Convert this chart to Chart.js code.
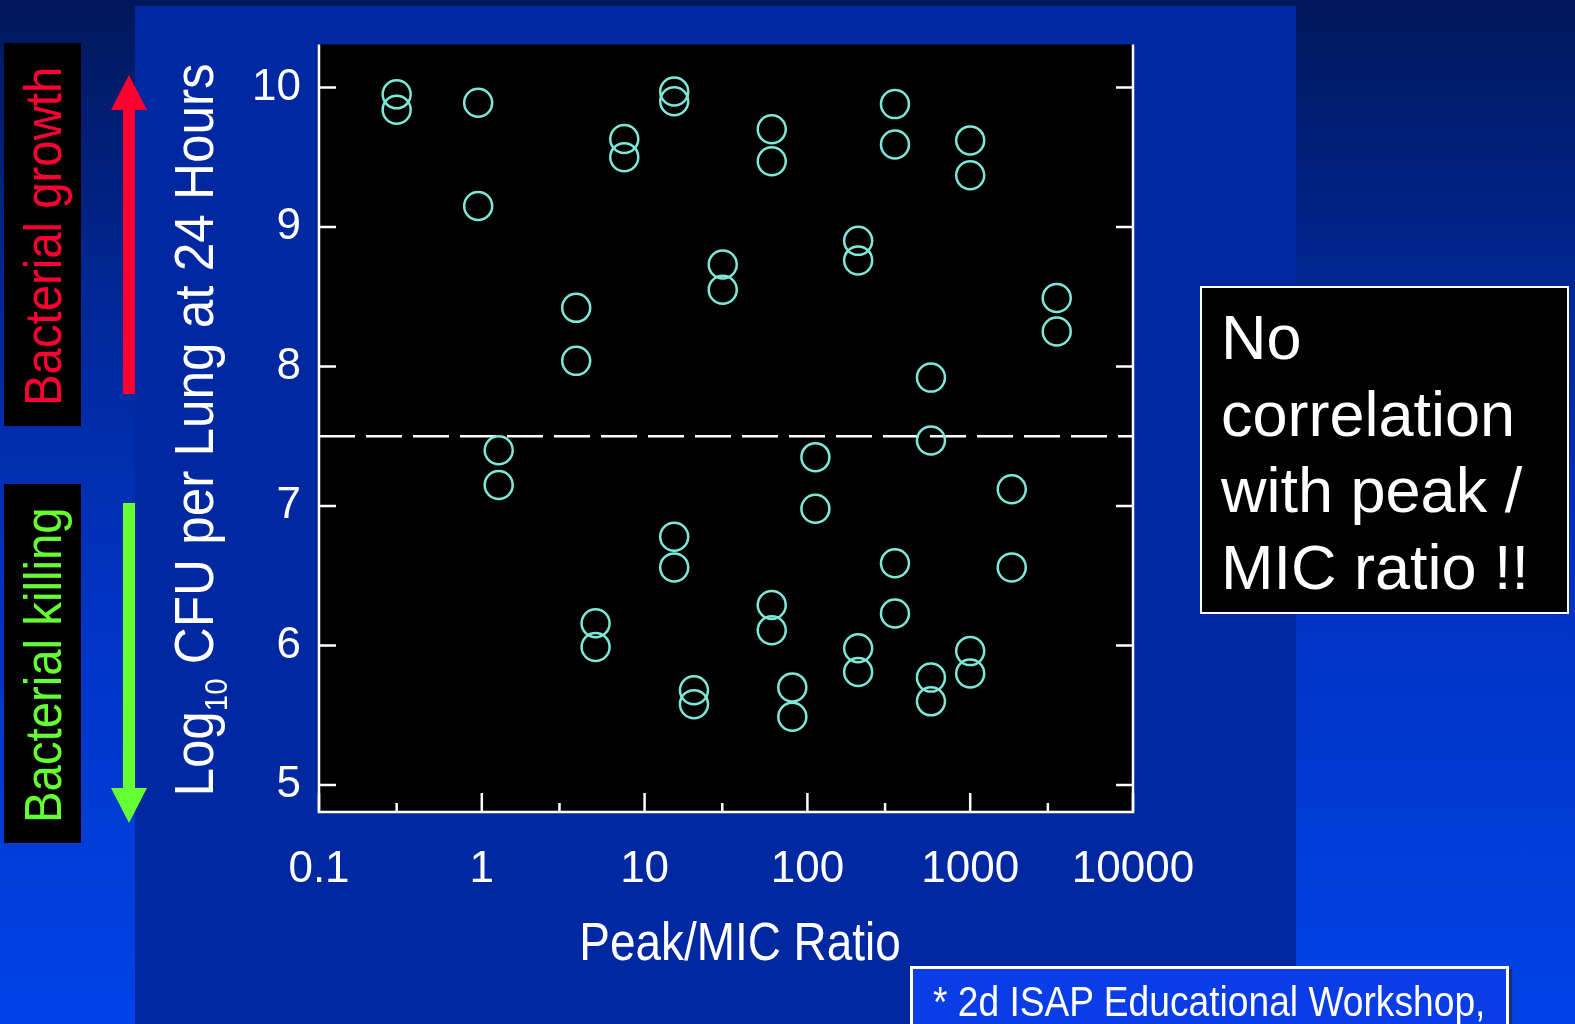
<!DOCTYPE html>
<html>
<head>
<meta charset="utf-8">
<title>Peak/MIC ratio vs lung CFU</title>
<script src="https://cdn.jsdelivr.net/npm/chart.js@4.4.1/dist/chart.umd.min.js"></script>
<style>
  html, body { margin: 0; padding: 0; }
  body {
    width: 1575px; height: 1024px; overflow: hidden; position: relative;
    background: linear-gradient(to bottom, #00175a 0%, #002898 30%, #0034c4 60%, #0043e8 100%);
    font-family: 'Liberation Sans', Arial, sans-serif;
  }
  .panel { position: absolute; left: 135px; top: 6px; width: 1161px; height: 1018px; background: #0028a0; }
  #chart { position: absolute; left: 0; top: 0; z-index: 1; }
  .side-box { position: absolute; left: 4px; width: 77px; background: #000; z-index: 2; }
  .side-text {
    position: absolute; z-index: 3; white-space: nowrap;
    font-size: 52px; line-height: 1.15;
    transform-origin: 0 0; transform: rotate(-90deg) scaleX(0.91);
  }
  .note {
    position: absolute; left: 1200px; top: 286px; width: 369px; height: 328px;
    box-sizing: border-box; border: 2px solid #fff; background: #000; color: #fff;
    padding: 11px 0 0 19px; font-size: 63px; line-height: 76.5px; z-index: 2;
  }
  .ref {
    position: absolute; left: 910px; top: 966px; width: 599px; height: 80px;
    box-sizing: border-box; border: 3px solid #fff; background: #0a3de6;
    box-shadow: 3px 3px 0 #1c2c6e; z-index: 2;
  }
  .ref span {
    position: absolute; left: 20px; top: 9px; white-space: nowrap; color: #fff;
    font-size: 42px; line-height: 1.15; transform-origin: 0 0; transform: scaleX(0.885);
  }
</style>
</head>
<body>
<div class="panel"></div>
<canvas id="chart" width="1575" height="1024"></canvas>

<div class="side-box" style="top:43px;height:383px"></div>
<div class="side-text" style="left:14px;top:406px;color:#ff0033">Bacterial growth</div>
<div class="side-box" style="top:484px;height:359px"></div>
<div class="side-text" style="left:14px;top:823px;color:#66ff33">Bacterial killing</div>

<div class="note">No<br>correlation<br>with peak /<br>MIC ratio !!</div>
<div class="ref"><span>* 2d ISAP Educational Workshop,</span></div>

<script>
// data
const peakMicRatio = [0.3, 0.3, 0.95, 0.95, 1.27, 1.27, 3.8, 3.8, 5.0, 5.0, 7.5, 7.5,
  15.2, 15.2, 15.2, 15.2, 20.1, 20.1, 30.2, 30.2, 60.4, 60.4, 60.4, 60.4, 80.8, 80.8,
  112, 112, 205, 205, 205, 205, 345, 345, 345, 345, 574, 574, 574, 574,
  1000, 1000, 1000, 1000, 1800, 1800, 3400, 3400];
const log10Cfu = [9.95, 9.84, 9.89, 9.15, 7.40, 7.15, 8.42, 8.04, 6.16, 5.99, 9.63, 9.50,
  9.97, 9.90, 6.78, 6.56, 5.68, 5.58, 8.73, 8.55, 9.70, 9.47, 6.29, 6.11, 5.70, 5.49,
  7.35, 6.98, 8.90, 8.76, 5.98, 5.81, 9.88, 9.59, 6.59, 6.23, 7.92, 7.47, 5.77, 5.60,
  9.62, 9.37, 5.96, 5.80, 7.12, 6.56, 8.49, 8.25];

// stasis line (killing vs growth)
const stasisX = [0.1, 10000];
const stasisY = [7.5, 7.5];

const xTickValues = [0.1, 1, 10, 100, 1000, 10000];
const xTickLabels = ["0.1", "1", "10", "100", "1000", "10000"];
const xMinorTicks = [0.3, 3, 30, 300, 3000];
const yTickValues = [5, 6, 7, 8, 9, 10];
const xRange = [0.1, 10000];
const yRange = [4.807, 10.308];

const FONT = "'Liberation Sans', Arial, sans-serif";

// black plot area, white frame with inward ticks, titles and arrows
const slideDecor = {
  id: "slideDecor",
  beforeDraw(chart) {
    const { ctx, chartArea: a } = chart;
    ctx.save();
    ctx.fillStyle = "#000";
    ctx.fillRect(a.left, a.top, a.right - a.left, a.bottom - a.top);
    ctx.restore();
  },
  afterDraw(chart) {
    const { ctx, chartArea: a } = chart;
    const xs = chart.scales.x;
    const ys = chart.scales.y;
    ctx.save();
    ctx.strokeStyle = "#fff";
    ctx.lineWidth = 2.5;
    ctx.beginPath();
    ctx.moveTo(a.left, a.top);
    ctx.lineTo(a.left, a.bottom);
    ctx.lineTo(a.right, a.bottom);
    ctx.lineTo(a.right, a.top);
    ctx.stroke();

    ctx.beginPath();
    yTickValues.forEach((v) => {
      const py = ys.getPixelForValue(v);
      ctx.moveTo(a.left, py);
      ctx.lineTo(a.left + 17, py);
      ctx.moveTo(a.right, py);
      ctx.lineTo(a.right - 17, py);
    });
    xTickValues.forEach((v) => {
      const px = xs.getPixelForValue(v);
      ctx.moveTo(px, a.bottom);
      ctx.lineTo(px, a.bottom - 19);
    });
    xMinorTicks.forEach((v) => {
      const px = xs.getPixelForValue(v);
      ctx.moveTo(px, a.bottom);
      ctx.lineTo(px, a.bottom - 9);
    });
    ctx.stroke();

    // y title with subscript
    ctx.fillStyle = "#fff";
    ctx.textBaseline = "alphabetic";
    ctx.textAlign = "left";
    ctx.translate(a.left - 106, 430);
    ctx.rotate(-Math.PI / 2);
    ctx.scale(0.915, 1);
    const big = "56px " + FONT;
    const small = "32px " + FONT;
    ctx.font = big;
    const w1 = ctx.measureText("Log").width;
    const w3 = ctx.measureText(" CFU per Lung at 24 Hours").width;
    ctx.font = small;
    const w2 = ctx.measureText("10").width;
    let x = -(w1 + w2 + w3) / 2;
    ctx.font = big;
    ctx.fillText("Log", x, 0);
    x += w1;
    ctx.font = small;
    ctx.fillText("10", x, 14);
    x += w2;
    ctx.font = big;
    ctx.fillText(" CFU per Lung at 24 Hours", x, 0);
    ctx.restore();

    // x title
    ctx.save();
    ctx.fillStyle = "#fff";
    ctx.font = "54px " + FONT;
    ctx.textAlign = "center";
    ctx.textBaseline = "alphabetic";
    ctx.translate(740, 960);
    ctx.scale(0.85, 1);
    ctx.fillText("Peak/MIC Ratio", 0, 0);
    ctx.restore();

    // growth / killing arrows
    ctx.save();
    ctx.fillStyle = "#ff0030";
    ctx.fillRect(123, 108, 12, 286);
    ctx.beginPath();
    ctx.moveTo(111, 110);
    ctx.lineTo(147, 110);
    ctx.lineTo(129, 75);
    ctx.closePath();
    ctx.fill();
    ctx.fillStyle = "#66ff33";
    ctx.fillRect(123, 503, 12, 287);
    ctx.beginPath();
    ctx.moveTo(111, 788);
    ctx.lineTo(147, 788);
    ctx.lineTo(129, 823);
    ctx.closePath();
    ctx.fill();
    ctx.restore();
  },
};

const ctx = document.getElementById("chart").getContext("2d");
new Chart(ctx, {
  type: "scatter",
  data: {
    datasets: [
      {
        label: "Lung CFU",
        data: peakMicRatio.map((v, i) => ({ x: v, y: log10Cfu[i] })),
        pointStyle: "circle",
        pointRadius: 14,
        borderWidth: 2.5,
        borderColor: "#7de8d8",
        backgroundColor: "rgba(0,0,0,0)",
        order: 0,
      },
      {
        type: "line",
        label: "Stasis",
        data: stasisX.map((v, i) => ({ x: v, y: stasisY[i] })),
        borderColor: "#ffffff",
        borderWidth: 2.5,
        borderDash: [36, 11],
        pointRadius: 0,
        order: 1,
      },
    ],
  },
  options: {
    responsive: false,
    devicePixelRatio: 1,
    animation: false,
    events: [],
    layout: { padding: { left: 149, right: 442, top: 43, bottom: 0 } },
    plugins: { legend: { display: false }, tooltip: { enabled: false } },
    scales: {
      x: {
        type: "logarithmic",
        min: xRange[0],
        max: xRange[1],
        grid: { display: false, drawTicks: false },
        border: { display: false },
        afterBuildTicks: (scale) => {
          scale.ticks = xTickValues.map((v) => ({ value: v }));
        },
        afterFit: (scale) => {
          scale.height = 212;
        },
        ticks: {
          autoSkip: false,
          maxRotation: 0,
          padding: 31,
          color: "#fff",
          font: { family: FONT, size: 44 },
          callback: (value, index) => xTickLabels[index],
        },
      },
      y: {
        min: yRange[0],
        max: yRange[1],
        grid: { display: false, drawTicks: false },
        border: { display: false },
        afterBuildTicks: (scale) => {
          scale.ticks = yTickValues.map((v) => ({ value: v }));
        },
        afterFit: (scale) => {
          scale.width = 170;
        },
        ticks: {
          padding: 18,
          color: "#fff",
          font: { family: FONT, size: 44 },
          callback: (value) => String(value),
        },
      },
    },
  },
  plugins: [slideDecor],
});
</script>
</body>
</html>
